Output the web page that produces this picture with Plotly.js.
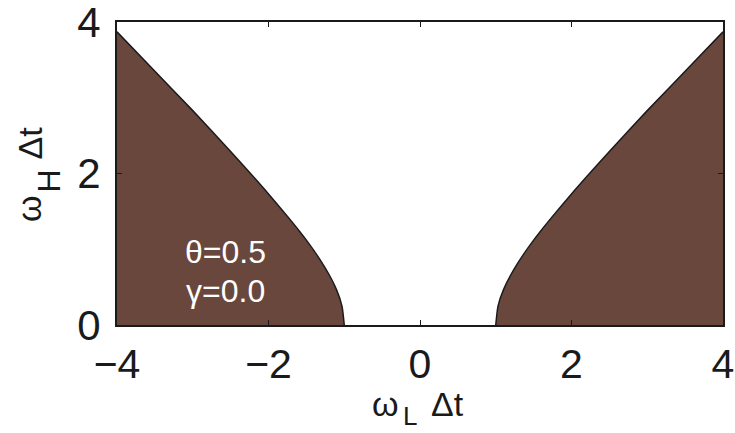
<!DOCTYPE html>
<html>
<head>
<meta charset="utf-8">
<script src="https://cdn.plot.ly/plotly-3.0.1.min.js"></script>
<style>html,body{margin:0;padding:0;background:#fff;}#chart{width:735px;height:433px;}</style>
</head>
<body>
<div id="chart"></div>
<script>
// Boundary of the brown (unstable) region
const leftX  = [-4.0, -3.5, -3.0, -2.5, -2.0, -1.5, -1.25, -1.1, -1.03, -1.0];
const leftY  = [3.87, 3.35, 2.83, 2.29, 1.73, 1.12, 0.75, 0.46, 0.25, 0.0];
const rightX = [1.0, 1.03, 1.1, 1.25, 1.5, 2.0, 2.5, 3.0, 3.5, 4.0];
const rightY = [0.0, 0.25, 0.46, 0.75, 1.12, 1.73, 2.29, 2.83, 3.35, 3.87];
const xTicks = [-4, -2, 0, 2, 4];
const yTicks = [0, 2, 4];
const labels = ["θ=0.5", "γ=0.0"];
// axis title pieces: main symbol, subscript, rest
const xTitle = ["ω", "L", "Δt"];
const yTitle = ["ω", "H", "Δt"];

const brown = "#6a473c";
const ink = "#1a1a1a";
const font = "Liberation Sans, Arial, Helvetica, sans-serif";

const leftPolyX = leftX.concat([-4.0]);
const leftPolyY = leftY.concat([0.0]);
const rightPolyX = rightX.concat([4.0]);
const rightPolyY = rightY.concat([0.0]);

const traces = [
  {x: leftPolyX, y: leftPolyY, type: "scatter", mode: "none", fill: "toself", fillcolor: brown, hoverinfo: "skip"},
  {x: rightPolyX, y: rightPolyY, type: "scatter", mode: "none", fill: "toself", fillcolor: brown, hoverinfo: "skip"},
  {x: leftX, y: leftY, type: "scatter", mode: "lines", line: {color: ink, width: 1.5, shape: "spline", smoothing: 0.6}, hoverinfo: "skip"},
  {x: rightX, y: rightY, type: "scatter", mode: "lines", line: {color: ink, width: 1.5, shape: "spline", smoothing: 0.6}, hoverinfo: "skip"}
];

function ann(text, x, y, size, angle) {
  return {text: text, x: x, y: y, xref: "paper", yref: "paper", xanchor: "center", yanchor: "middle",
          showarrow: false, textangle: angle, font: {size: size, family: font, color: ink}};
}

const layout = {
  width: 735, height: 433,
  margin: {l: 117, r: 12, t: 22, b: 108},
  paper_bgcolor: "#fff", plot_bgcolor: "#fff",
  showlegend: false,
  font: {family: font, color: ink},
  xaxis: {
    range: [-4, 4], tickvals: xTicks, ticktext: xTicks.map(v => v < 0 ? "\u2212" + Math.abs(v) : String(v)),
    ticks: "inside", ticklen: 5, tickwidth: 1, tickcolor: ink,
    showline: true, linecolor: ink, linewidth: 2, mirror: "ticks",
    showgrid: false, zeroline: false,
    tickfont: {size: 41, family: font, color: ink},
    ticklabelstandoff: 2, ticklabeloverflow: "allow"
  },
  yaxis: {
    range: [0, 4], tickvals: yTicks,
    ticks: "inside", ticklen: 5, tickwidth: 1, tickcolor: ink,
    showline: true, linecolor: ink, linewidth: 2, mirror: "ticks",
    showgrid: false, zeroline: false,
    tickfont: {size: 42, family: font, color: ink},
    ticklabelstandoff: 6, ticklabeloverflow: "allow"
  },
  annotations: [
    {x: -2.57, y: 0.96, xref: "x", yref: "y", text: labels[0], showarrow: false, font: {size: 32, family: font, color: "#ffffff"}},
    {x: -2.57, y: 0.45, xref: "x", yref: "y", text: labels[1], showarrow: false, font: {size: 32, family: font, color: "#ffffff"}},
    ann(xTitle[0], 0.443, -0.2607, 34, 0),
    ann(xTitle[1], 0.4835, -0.300, 26, 0),
    ann(xTitle[2], 0.5454, -0.2607, 34, 0),
    ann(yTitle[0], -0.1452, 0.383, 34, -90),
    ann(yTitle[1], -0.1114, 0.475, 32, -90),
    ann(yTitle[2], -0.1452, 0.599, 34, -90)
  ]
};

Plotly.newPlot("chart", traces, layout, {displayModeBar: false, staticPlot: true});
</script>
</body>
</html>
